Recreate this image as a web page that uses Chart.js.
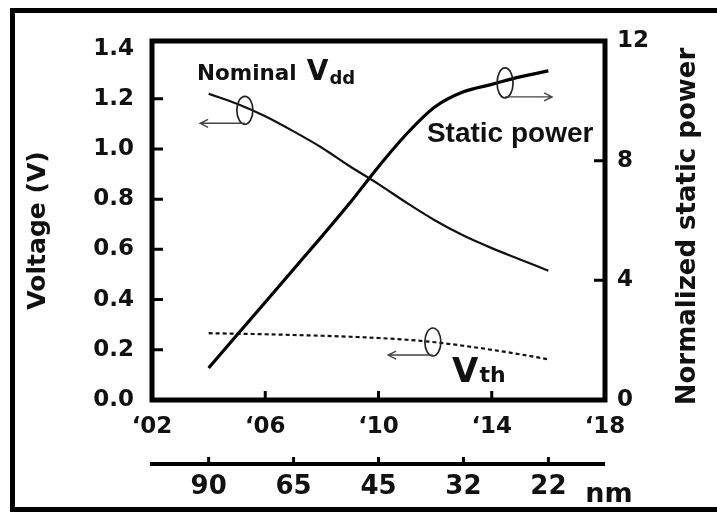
<!DOCTYPE html>
<html>
<head>
<meta charset="utf-8">
<script src="https://cdn.jsdelivr.net/npm/chart.js@4.4.1/dist/chart.umd.min.js"></script>
<style>
  html, body { margin: 0; padding: 0; background: #fff; overflow: hidden; }
  #wrap { width: 717px; height: 512px; }
</style>
</head>
<body>
<div id="wrap"><canvas id="chart"></canvas></div>
<script>
// values
const years = [2004, 2005, 2006, 2007, 2008, 2009, 2010, 2011, 2012, 2013, 2014, 2015, 2016];
const vdd = [1.22, 1.18, 1.13, 1.07, 1.005, 0.93, 0.86, 0.785, 0.715, 0.655, 0.605, 0.56, 0.515];
const vth = [0.266, 0.264, 0.262, 0.259, 0.256, 0.252, 0.247, 0.24, 0.23, 0.216, 0.2, 0.182, 0.162];
const staticPower = [1.07, 2.17, 3.27, 4.37, 5.47, 6.6, 7.8, 8.9, 9.8, 10.3, 10.55, 10.8, 11.0];

const yearTicks = [2002, 2006, 2010, 2014, 2018];
const voltageTicks = [0, 0.2, 0.4, 0.6, 0.8, 1.0, 1.2, 1.4];
const powerTicks = [0, 4, 8, 12];
const nodeYears = [2004, 2007, 2010, 2013, 2016];
const nodeLabels = ["90", "65", "45", "32", "22"];

const DV = "'DejaVu Sans'";
const ARIAL = "'Liberation Sans', Arial";
const toPoints = (vals) => years.map((x, i) => ({ x: x, y: vals[i] }));
const boldFont = (size) => ({ family: DV, weight: "bold", size: size });

// helpers for the annotations
function at(xs, ys, xv, yv) {
  return { x: xs.getPixelForValue(xv), y: ys.getPixelForValue(yv) };
}
function text(ctx, str, x, y, size, family) {
  ctx.font = "bold " + size + "px " + family;
  ctx.fillText(str, x, y);
  return ctx.measureText(str).width;
}
function ringArrow(ctx, c, rx, ry, toX) {
  ctx.lineWidth = 1.7;
  ctx.strokeStyle = "#222";
  ctx.beginPath();
  ctx.ellipse(c.x, c.y, rx, ry, 0, 0, Math.PI * 2);
  ctx.stroke();
  const y = c.y + ry - 1;
  const dir = toX < c.x ? -1 : 1;
  ctx.lineWidth = 1.4;
  ctx.strokeStyle = "#444";
  ctx.beginPath();
  ctx.moveTo(c.x, y);
  ctx.lineTo(toX, y);
  ctx.moveTo(toX - dir * 8, y - 4);
  ctx.lineTo(toX, y);
  ctx.lineTo(toX - dir * 8, y + 4);
  ctx.stroke();
}

const decor = {
  id: "decor",
  beforeDraw(chart) {
    const ctx = chart.ctx;
    ctx.save();
    ctx.fillStyle = "#fff";
    ctx.fillRect(0, 0, chart.width, chart.height);
    // outer frame: top, left and bottom edges only (right edge is cropped)
    ctx.lineWidth = 5;
    ctx.strokeStyle = "#000";
    ctx.beginPath();
    ctx.moveTo(chart.width + 5, 10.5);
    ctx.lineTo(12.5, 10.5);
    ctx.lineTo(12.5, 509.5);
    ctx.lineTo(chart.width + 5, 509.5);
    ctx.stroke();
    ctx.restore();
  },
  afterDraw(chart) {
    const { ctx, chartArea: a, scales } = chart;
    const xs = scales.x, ys = scales.y, y1 = scales.y1, x2 = scales.x2;
    ctx.save();

    // plot box
    ctx.lineWidth = 5;
    ctx.strokeStyle = "#000";
    ctx.strokeRect(a.left, a.top, a.width, a.height);

    // inward tick marks
    ctx.lineWidth = 3;
    ctx.beginPath();
    voltageTicks.slice(1, -1).forEach((v) => {
      const py = ys.getPixelForValue(v);
      ctx.moveTo(a.left, py); ctx.lineTo(a.left + 11, py);
    });
    powerTicks.slice(1, -1).forEach((v) => {
      const py = y1.getPixelForValue(v);
      ctx.moveTo(a.right, py); ctx.lineTo(a.right - 11, py);
    });
    yearTicks.slice(1, -1).forEach((v) => {
      const px = xs.getPixelForValue(v);
      ctx.moveTo(px, a.bottom); ctx.lineTo(px, a.bottom - 9);
    });
    nodeYears.forEach((v) => {
      const px = x2.getPixelForValue(v);
      ctx.moveTo(px, x2.top); ctx.lineTo(px, x2.top - 7);
    });
    ctx.stroke();

    // axis titles, both read bottom to top
    ctx.fillStyle = "#111";
    ctx.textAlign = "center";
    ctx.textBaseline = "middle";
    ctx.font = "bold 25px " + DV;
    ctx.save();
    ctx.translate(38, a.top + a.height / 2 + 10);
    ctx.rotate(-Math.PI / 2);
    ctx.fillText("Voltage (V)", 0, 0);
    ctx.restore();
    ctx.font = "bold 26px " + DV;
    ctx.save();
    ctx.translate(688, a.top + a.height / 2 + 6);
    ctx.rotate(-Math.PI / 2);
    ctx.fillText("Normalized static power", 0, 0);
    ctx.restore();

    // curve labels
    ctx.textAlign = "left";
    ctx.textBaseline = "alphabetic";
    let p = at(xs, ys, 2003.59, 1.273);
    let w = text(ctx, "Nominal", p.x, p.y, 21.5, DV) + 10;
    const wv = text(ctx, "V", p.x + w, p.y, 28, DV);
    text(ctx, "dd", p.x + w + wv + 1, p.y + 4, 18, DV);

    p = at(xs, y1, 2011.71, 8.63);
    text(ctx, "Static power", p.x, p.y, 28, ARIAL);

    p = at(xs, ys, 2012.6, 0.072);
    const wt = text(ctx, "V", p.x, p.y, 34, DV);
    text(ctx, "th", p.x + wt + 1, p.y, 22, DV);

    // node unit
    text(ctx, "nm", x2.getPixelForValue(2017.3), x2.bottom - 10, 27, DV);

    // rings with arrows pointing to the axis each curve uses
    ringArrow(ctx, at(xs, ys, 2005.28, 1.154), 8, 14, xs.getPixelForValue(2003.7));
    ringArrow(ctx, at(xs, y1, 2014.47, 10.6), 8, 15, xs.getPixelForValue(2016.13));
    ringArrow(ctx, at(xs, ys, 2011.92, 0.231), 8, 14, xs.getPixelForValue(2010.34));

    ctx.restore();
  }
};

const tickFont = boldFont(23);

new Chart(document.getElementById("chart"), {
  type: "line",
  data: {
    datasets: [
      {
        label: "Nominal Vdd",
        data: toPoints(vdd),
        yAxisID: "y",
        borderColor: "#111",
        borderWidth: 2.2,
        pointRadius: 0,
        cubicInterpolationMode: "monotone",
      },
      {
        label: "Static power",
        data: toPoints(staticPower),
        yAxisID: "y1",
        borderColor: "#000",
        borderWidth: 3.2,
        pointRadius: 0,
        cubicInterpolationMode: "monotone",
      },
      {
        label: "Vth",
        data: toPoints(vth),
        yAxisID: "y",
        borderColor: "#111",
        borderWidth: 2.2,
        borderDash: [4, 3],
        pointRadius: 0,
        cubicInterpolationMode: "monotone",
      },
    ],
  },
  options: {
    responsive: true,
    maintainAspectRatio: false,
    animation: false,
    layout: { padding: { top: 41, left: 0, right: 0, bottom: 0 } },
    plugins: {
      legend: { display: false },
      tooltip: { enabled: false },
    },
    scales: {
      x: {
        type: "linear",
        position: "bottom",
        weight: 0,
        min: 2002,
        max: 2018,
        afterBuildTicks: (s) => { s.ticks = yearTicks.map((v) => ({ value: v })); },
        afterFit: (s) => { s.height = 64; },
        grid: { display: false, drawTicks: false },
        border: { display: false },
        ticks: {
          padding: 13,
          autoSkip: false,
          maxRotation: 0,
          color: "#111",
          font: tickFont,
          callback: (v) => "\u2018" + String(v).slice(2),
        },
      },
      x2: {
        type: "linear",
        position: "bottom",
        weight: 1,
        min: 2002,
        max: 2018,
        afterBuildTicks: (s) => { s.ticks = nodeYears.map((v) => ({ value: v })); },
        afterFit: (s) => { s.height = 48; },
        grid: { display: false, drawTicks: false, lineWidth: 0 },
        border: { display: true, width: 4, color: "#000" },
        ticks: {
          padding: 8,
          autoSkip: false,
          maxRotation: 0,
          color: "#111",
          font: boldFont(26),
          callback: (v) => nodeLabels[nodeYears.indexOf(v)],
        },
      },
      y: {
        position: "left",
        min: 0,
        max: 1.43,
        afterBuildTicks: (s) => { s.ticks = voltageTicks.map((v) => ({ value: v })); },
        afterFit: (s) => { s.width = 152; },
        grid: { display: false, drawTicks: false },
        border: { display: false },
        ticks: {
          padding: 18,
          autoSkip: false,
          color: "#111",
          font: tickFont,
          callback: (v) => v.toFixed(1),
        },
      },
      y1: {
        position: "right",
        min: 0,
        max: 12,
        afterBuildTicks: (s) => { s.ticks = powerTicks.map((v) => ({ value: v })); },
        afterFit: (s) => { s.width = 112; },
        grid: { display: false, drawTicks: false },
        border: { display: false },
        ticks: {
          padding: 12,
          autoSkip: false,
          color: "#111",
          font: tickFont,
        },
      },
    },
  },
  plugins: [decor],
});
</script>
</body>
</html>
